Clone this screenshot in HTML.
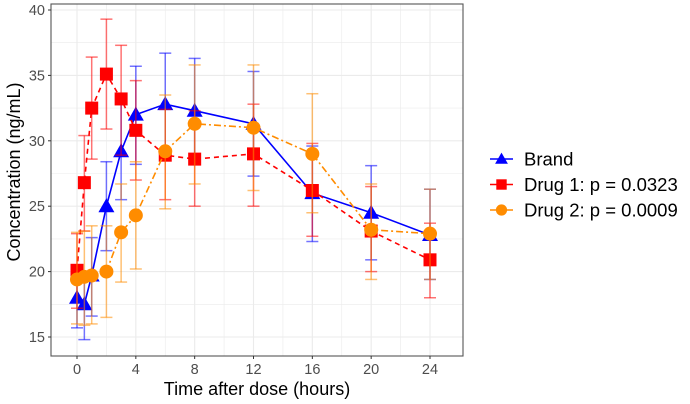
<!DOCTYPE html>
<html><head><meta charset="utf-8"><style>
body{margin:0;background:#fff;}
svg{display:block;font-family:"Liberation Sans",Arial,sans-serif;}
</style></head><body>
<svg id="chart" width="690" height="404"></svg>
<script>
const times=[0,0.5,1,2,3,4,6,8,12,16,20,24];
const brandMean=[18.0,17.5,19.7,25.0,29.2,32.0,32.8,32.3,31.3,26.0,24.5,22.8];
const brandLo=[15.7,14.8,16.6,21.6,25.5,28.2,28.9,28.4,27.3,22.3,20.9,19.4];
const brandHi=[20.1,20.0,22.6,28.4,32.8,35.7,36.7,36.3,35.3,29.6,28.1,26.3];
const drug1Mean=[20.1,26.8,32.5,35.1,33.2,30.8,28.9,28.6,29.0,26.2,23.1,20.9];
const drug1Lo=[17.2,23.1,28.6,30.9,28.9,27.0,25.5,25.0,25.0,22.7,20.0,18.0];
const drug1Hi=[22.9,30.4,36.4,39.3,37.3,34.6,32.4,32.3,32.8,29.8,26.5,23.7];
const drug2Mean=[19.4,19.6,19.7,20.0,23.0,24.3,29.2,31.3,31.0,29.0,23.2,22.9];
const drug2Lo=[16.0,15.9,16.0,16.5,19.2,20.2,24.8,26.7,26.2,24.5,19.4,19.4];
const drug2Hi=[23.0,23.1,23.5,23.5,26.7,28.4,33.5,35.8,35.8,33.6,26.7,26.3];
const xTicks=[0,4,8,12,16,20,24];
const yTicks=[15,20,25,30,35,40];

const svg=document.getElementById('chart');
const NS='http://www.w3.org/2000/svg';
const L=51,R=463,T=4,B=356;
const X=t=>77+t*(430-77)/24;
const Y=v=>337-(v-15)*(337-10)/25;
function mk(tag,attrs,parent){const e=document.createElementNS(NS,tag);for(const k in attrs)e.setAttribute(k,attrs[k]);(parent||svg).appendChild(e);return e;}

const grid=mk('g',{});


for(let v=15;v<=40;v+=2.5){mk('line',{x1:L,x2:R,y1:Y(v),y2:Y(v),stroke:'#ebebeb','stroke-width':v%5===0?1.1:0.6},grid);}
for(let t=0;t<=24;t+=2){mk('line',{x1:X(t),x2:X(t),y1:T,y2:B,stroke:'#ebebeb','stroke-width':t%4===0?1.1:0.6},grid);}
const frame=mk('rect',{x:L,y:T,width:R-L,height:B-T,fill:'none',stroke:'#555','stroke-width':1.1});



yTicks.forEach(v=>{mk('line',{x1:L-3,x2:L,y1:Y(v),y2:Y(v),stroke:'#333'});
const t=mk('text',{x:L-6,y:Y(v)+5,'text-anchor':'end','font-size':14.5,fill:'#4d4d4d'});t.textContent=v;

});
xTicks.forEach(v=>{mk('line',{x1:X(v),x2:X(v),y1:B,y2:B+3,stroke:'#333'});
const t=mk('text',{x:X(v),y:B+18,'text-anchor':'middle','font-size':14.5,fill:'#4d4d4d'});t.textContent=v;

});
const xt=mk('text',{x:257,y:395,'text-anchor':'middle','font-size':18,fill:'#000'});xt.textContent='Time after dose (hours)';


const yt=mk('text',{x:20,y:172,'text-anchor':'middle','font-size':18,fill:'#000',transform:'rotate(-90 20 172)'});yt.textContent='Concentration (ng/mL)';



function marker(g,type,x,y,color,k){
 k=k||1;
 if(type==='tri')mk('polygon',{points:`${x},${y-8*k} ${x-8*k},${y+6*k} ${x+8*k},${y+6*k}`,fill:color},g);
 else if(type==='sq')mk('rect',{x:x-6.5*k,y:y-6.5*k,width:13*k,height:13*k,fill:color},g);
 else mk('circle',{cx:x,cy:y,r:7*k,fill:color},g);
}
const series=[
 {name:'brand',mean:brandMean,lo:brandLo,hi:brandHi,color:'#0000ff',dash:'',type:'tri'},
 {name:'drug1',mean:drug1Mean,lo:drug1Lo,hi:drug1Hi,color:'#ff0000',dash:'5,4',type:'sq'},
 {name:'drug2',mean:drug2Mean,lo:drug2Lo,hi:drug2Hi,color:'#ff8c00',dash:'7,3,2,3',type:'circ'}];
series.forEach(s=>{
 const g=mk('g',{});
 
 
 times.forEach((t,i)=>{const x=X(t);
  mk('line',{x1:x,x2:x,y1:Y(s.lo[i]),y2:Y(s.hi[i]),stroke:s.color,'stroke-opacity':0.55,'stroke-width':1.5},g);
  mk('line',{x1:x-6,x2:x+6,y1:Y(s.lo[i]),y2:Y(s.lo[i]),stroke:s.color,'stroke-opacity':0.55,'stroke-width':1.5},g);
  mk('line',{x1:x-6,x2:x+6,y1:Y(s.hi[i]),y2:Y(s.hi[i]),stroke:s.color,'stroke-opacity':0.55,'stroke-width':1.5},g);});
 mk('polyline',{points:times.map((t,i)=>X(t)+','+Y(s.mean[i])).join(' '),fill:'none',stroke:s.color,'stroke-width':1.6,'stroke-dasharray':s.dash},g);
 times.forEach((t,i)=>marker(g,s.type,X(t),Y(s.mean[i]),s.color));
});
const legendLabels=['Brand','Drug 1: p = 0.0323','Drug 2: p = 0.0009'];
legendLabels.forEach((lab,i)=>{
 const s=series[i];const y=159+i*25.5;
 const g=mk('g',{});
 
 
 mk('line',{x1:490,x2:513,y1:y,y2:y,stroke:s.color,'stroke-width':1.6},g);
 marker(g,s.type,501.5,y,s.color,0.8);
 const t=mk('text',{x:524,y:y+6.5,'font-size':18.5,fill:'#000'},g);t.textContent=lab;
});
</script>
</body></html>
